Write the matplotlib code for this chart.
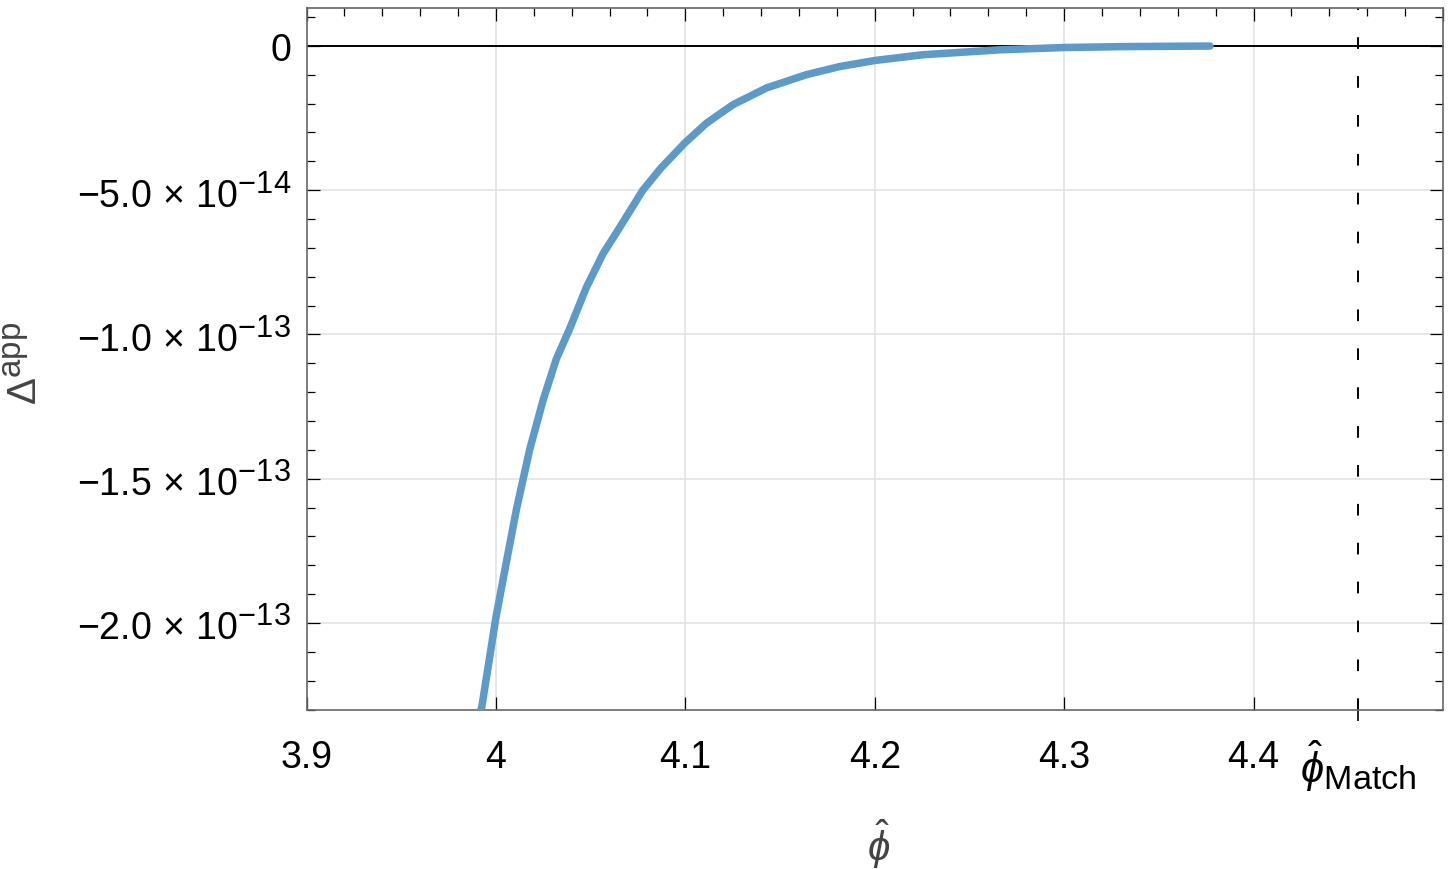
import numpy as np
import matplotlib
matplotlib.use("Agg")
import matplotlib.pyplot as plt
import matplotlib._mathtext as mtext

# Mathematica-like bigger super/subscripts
mtext.SHRINK_FACTOR = 0.82

plt.rcParams['font.family'] = ['Liberation Sans', 'DejaVu Sans']
plt.rcParams['mathtext.fontset'] = 'custom'
plt.rcParams['mathtext.rm'] = 'Liberation Sans'
plt.rcParams['mathtext.it'] = 'Liberation Sans:italic'
plt.rcParams['mathtext.bf'] = 'Liberation Sans:bold'

# curve (Delta in units of 1e-14)
phi = [3.9900, 3.9925, 4.0000, 4.0056, 4.0109, 4.0179, 4.0249, 4.0319, 4.0389,
       4.0477, 4.0565, 4.0652, 4.0775, 4.0872, 4.1000, 4.1112, 4.1252, 4.1429,
       4.1640, 4.1815, 4.2000, 4.2255, 4.2519, 4.2660, 4.3000, 4.3300, 4.3500,
       4.3770]
delta = [-23.40, -22.92, -19.81, -17.86, -16.04, -13.97, -12.28, -10.85, -9.81,
         -8.38, -7.21, -6.31, -5.01, -4.23, -3.35, -2.68, -2.04, -1.46,
         -1.00, -0.72, -0.51, -0.31, -0.20, -0.14, -0.06, -0.03, -0.02,
         -0.01]

phi_match = 4.455
x_ticks = [3.9, 4.0, 4.1, 4.2, 4.3, 4.4]
x_labels = ["3.9", "4", "4.1", "4.2", "4.3", "4.4"]
y_ticks = [0, -5e-14, -1e-13, -1.5e-13, -2e-13]
y_labels = ["0", r"$-5.0\,\times\,10^{-14}$", r"$-1.0\,\times\,10^{-13}$",
            r"$-1.5\,\times\,10^{-13}$", r"$-2.0\,\times\,10^{-13}$"]

fs = 27
frame_col = "#666666"
label_col = "#444444"

fig = plt.figure(figsize=(14.54, 8.70), dpi=100)
ax = fig.add_axes([0.2108, 0.1828, 0.7816, 0.8069])

ax.set_xlim(3.9, 4.5)
ax.set_ylim(-2.301e-13, 1.31e-14)

# grid
for x in x_ticks[1:]:
    ax.axvline(x, color="#e3e3e3", lw=1.2, zorder=0)
for y in y_ticks[1:]:
    ax.axhline(y, color="#e3e3e3", lw=1.2, zorder=0)

ax.axhline(0, color="black", lw=1.4, zorder=1)
ax.axvline(phi_match, color="black", lw=1.4, dashes=(6, 14), zorder=1)

ax.plot(phi, np.array(delta) * 1e-14, color="#5B9AC9", lw=5.4,
        solid_capstyle="round", solid_joinstyle="round", zorder=3)

for s in ax.spines.values():
    s.set_color(frame_col)
    s.set_linewidth(1.2)

# bottom: major ticks only
ax.set_xticks(x_ticks)
ax.set_xticklabels(x_labels)
ax.tick_params(axis="x", which="major", direction="in", length=9.5, width=0.9,
               labelsize=fs, pad=21, bottom=True, top=False, color="black")
ax.tick_params(axis="x", which="minor", bottom=False, top=False)

# left/right ticks
ax.set_yticks(y_ticks)
ax.set_yticklabels(y_labels)
ax.set_yticks(np.arange(-23, 2, 1) * 1e-14, minor=True)
ax.tick_params(axis="y", which="major", direction="in", length=9.5, width=0.9,
               labelsize=fs, pad=11, left=True, right=True, color="black")
ax.tick_params(axis="y", which="minor", direction="in", length=5.8, width=0.9,
               left=True, right=True, color="black")

# top ticks: major + minor, no labels
top = ax.secondary_xaxis("top")
top.set_xticks(np.arange(3.9, 4.51, 0.1))
top.set_xticks(np.arange(3.9, 4.51, 0.02), minor=True)
top.tick_params(which="major", direction="in", length=9.5, width=0.9,
                labeltop=False, color="black")
top.tick_params(which="minor", direction="in", length=5.8, width=0.9,
                labeltop=False, color="black")
top.spines["top"].set_visible(False)

# matching point tick
mt = ax.secondary_xaxis("bottom")
mt.set_xticks([phi_match])
mt.set_xticklabels([r"$\hat{\phi}_{\rm Match}$"])
mt.tick_params(direction="inout", length=16, width=1.2, labelsize=30, pad=12,
               color="black")
mt.spines["bottom"].set_visible(False)

ax.set_xlabel(r"$\hat{\phi}$", fontsize=29, color=label_col)
ax.xaxis.set_label_coords(0.503, -0.152)
ax.set_ylabel(r"$\Delta^{\rm app}$", fontsize=29, color=label_col)
ax.yaxis.set_label_coords(-0.2301, 0.4957)

fig.savefig("out.png", dpi=100)
